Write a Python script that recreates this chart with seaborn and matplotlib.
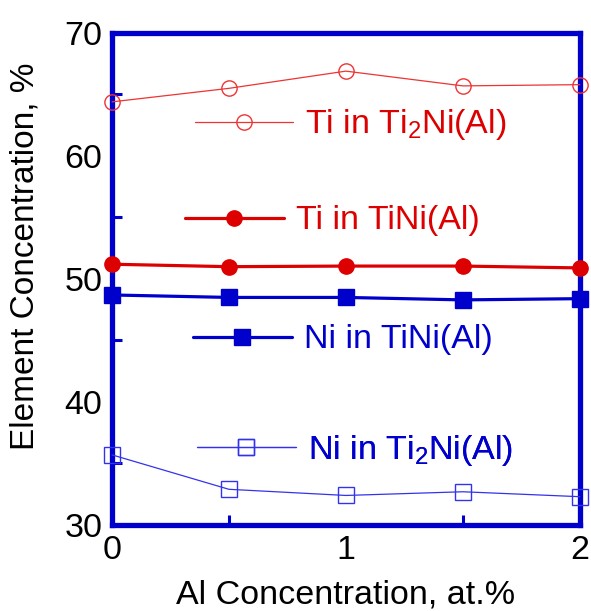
import seaborn as sns
import matplotlib.pyplot as plt
import pandas as pd
from matplotlib.lines import Line2D
from matplotlib.ticker import MultipleLocator

### Data
al_conc = [0, 0.5, 1.0, 1.5, 2.0]
ti_in_ti2ni = [64.4, 65.5, 66.9, 65.7, 65.8]
ti_in_tini = [51.2, 51.0, 51.05, 51.05, 50.9]
ni_in_tini = [48.7, 48.5, 48.5, 48.3, 48.4]
ni_in_ti2ni = [35.7, 32.9, 32.4, 32.7, 32.3]

sns.set_style("white")
plt.rcParams['font.family'] = ['Liberation Sans', 'DejaVu Sans']
plt.rcParams['mathtext.fontset'] = 'custom'
plt.rcParams['mathtext.rm'] = 'Liberation Sans'
plt.rcParams['mathtext.it'] = 'Liberation Sans'
plt.rcParams['text.color'] = 'black'
plt.rcParams['axes.labelcolor'] = 'black'
plt.rcParams['xtick.color'] = 'black'
plt.rcParams['ytick.color'] = 'black'

red = '#DD0000'
red_thin = '#EE3333'
blue = '#0000CC'
blue_thin = '#3333EE'
fs = 24.5

fig = plt.figure(figsize=(5.91, 6.11), dpi=100)
ax = fig.add_axes([0.1895, 0.1408, 0.7915, 0.8052])

series = [
    (ti_in_ti2ni, red_thin, red, 'o', 'none', 0.9, 11, 'Ti in Ti$_2$Ni(Al)'),
    (ti_in_tini, red, red, 'o', red, 2.3, 11, 'Ti in TiNi(Al)'),
    (ni_in_tini, blue, blue, 's', blue, 2.3, 12, 'Ni in TiNi(Al)'),
    (ni_in_ti2ni, blue_thin, blue, 's', 'none', 0.9, 12, 'Ni in Ti$_2$Ni(Al)'),
]

for vals, col, tcol, mk, fc, lw, ms, lab in series:
    df = pd.DataFrame({'x': al_conc, 'y': vals})
    sns.lineplot(data=df, x='x', y='y', ax=ax, color=col, linewidth=lw,
                 marker=mk, markersize=ms, markerfacecolor=fc,
                 markeredgecolor=col, markeredgewidth=1.0, clip_on=False,
                 zorder=3)

### one-entry legends placed inside the plot
legend_pos = [(0.177, 0.813), (0.156, 0.618), (0.173, 0.376), (0.182, 0.152)]
for (vals, col, tcol, mk, fc, lw, ms, lab), pos in zip(series, legend_pos):
    h = Line2D([], [], color=col, linewidth=lw, marker=mk, markersize=ms,
               markerfacecolor=fc, markeredgecolor=col, markeredgewidth=1.0)
    leg = ax.legend([h], [lab], loc='center left', bbox_to_anchor=pos,
                    frameon=False, borderpad=0, borderaxespad=0,
                    handlelength=2.9, handletextpad=0.35,
                    prop={'size': fs})
    for t in leg.get_texts():
        t.set_color(tcol)
    ax.add_artist(leg)

ax.set_xlim(0, 2)
ax.set_ylim(30, 70)
ax.xaxis.set_major_locator(MultipleLocator(1))
ax.xaxis.set_minor_locator(MultipleLocator(0.5))
ax.yaxis.set_major_locator(MultipleLocator(10))
ax.yaxis.set_minor_locator(MultipleLocator(5))

for sp in ax.spines.values():
    sp.set_color(blue)
    sp.set_linewidth(3.8)
    sp.set_visible(True)

ax.tick_params(which='both', direction='in', color=blue, width=2.2,
               labelsize=fs, labelcolor='black',
               bottom=True, left=True, top=False, right=False)
ax.tick_params(which='major', length=0, pad=7)
ax.tick_params(axis='x', which='minor', length=7)
ax.tick_params(axis='y', which='minor', length=7)

ax.set_xlabel('Al Concentration, at.%', fontsize=fs, labelpad=10)
ax.set_ylabel('Element Concentration, %', fontsize=24)
ax.yaxis.set_label_coords(-0.152, 0.547)

fig.savefig('out.png', dpi=100)
